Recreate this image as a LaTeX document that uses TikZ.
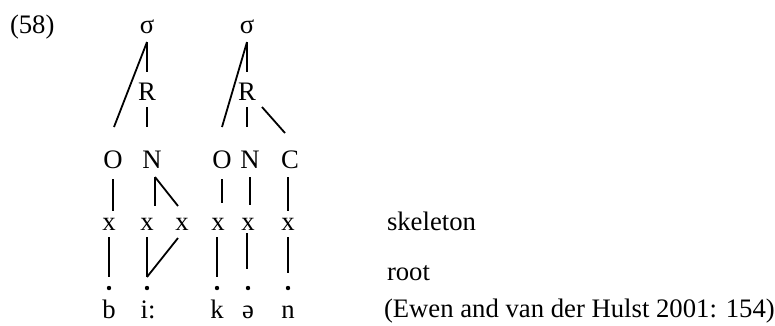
\documentclass[tikz,border=0pt]{standalone}
\usepackage{fontspec}
\setmainfont{Liberation Serif}
\usetikzlibrary{calc}
\begin{document}
\begin{tikzpicture}[x=1pt,y=-1pt,
  lab/.style={inner sep=0pt,outer sep=0pt,anchor=base,font=\fontsize{26.7}{32}\selectfont},
  dotnode/.style={circle,fill=black,inner sep=0pt,minimum size=4.4pt},
  ln/.style={line width=1.8pt}]
\useasboundingbox (0,0) rectangle (775,325);
% labels
\node[lab,anchor=base west] (num) at (10,33) {(58)};
\node[lab] (s1) at (147,33) {σ};
\node[lab] (s2) at (247,33) {σ};
\node[lab] (r1) at (147,100) {R};
\node[lab] (r2) at (247,100) {R};
\node[lab] (o1) at (113,168) {O};
\node[lab] (n1) at (152,168) {N};
\node[lab] (o2) at (222,168) {O};
\node[lab] (n2) at (250,168) {N};
\node[lab] (c) at (290,168) {C};
\node[lab] (x1) at (109,230) {x};
\node[lab] (x2) at (147,230) {x};
\node[lab] (x3) at (182,230) {x};
\node[lab] (x4) at (218,230) {x};
\node[lab] (x5) at (248,230) {x};
\node[lab] (x6) at (288,230) {x};
\node[dotnode] (d1) at (109,288) {};
\node[dotnode] (d2) at (147,288) {};
\node[dotnode] (d3) at (217,288) {};
\node[dotnode] (d4) at (248,288) {};
\node[dotnode] (d5) at (288,288) {};
\node[lab] (sb) at (109,318) {b};
\node[lab] (si) at (148,318) {i:};
\node[lab] (sk) at (217,318) {k};
\node[lab] (se) at (248,318) {ə};
\node[lab] (sn) at (288,318) {n};
\node[lab,anchor=base west] (skel) at (387,230) {skeleton};
\node[lab,anchor=base west] (root) at (387,280) {root};
\node[lab,anchor=base west] (cite) at (384,317) {(Ewen and van der Hulst 2001: 154)};
% syllable 1
\draw[ln] ($(s1.base)+(0,9)$) -- ($(o1.base)+(1,-41)$);
\draw[ln] ($(s1.base)+(0,9)$) -- ($(r1.base)+(0,-28)$);
\draw[ln] ($(r1.base)+(0,7)$) -- ($(n1.base)+(-5,-41)$);
% syllable 2
\draw[ln] ($(s2.base)+(0,9)$) -- ($(o2.base)+(0,-41)$);
\draw[ln] ($(s2.base)+(0,9)$) -- ($(r2.base)+(0,-28)$);
\draw[ln] ($(r2.base)+(0,7)$) -- ($(n2.base)+(-3,-41)$);
\draw[ln] ($(r2.base)+(15,7)$) -- ($(c.base)+(-5,-35)$);
% constituents to skeleton
\draw[ln] ($(o1.base)+(0,11)$) -- ($(x1.base)+(4,-19)$);
\draw[ln] ($(n1.base)+(3,9)$) -- ($(x2.base)+(8,-24)$);
\draw[ln] ($(n1.base)+(3,9)$) -- ($(x3.base)+(-4,-24)$);
\draw[ln] ($(o2.base)+(0,11)$) -- ($(x4.base)+(4,-27)$);
\draw[ln] ($(n2.base)+(0,9)$) -- ($(x5.base)+(2,-25)$);
\draw[ln] ($(c.base)+(-2,9)$) -- ($(x6.base)+(0,-19)$);
% skeleton to root
\draw[ln] ($(x1.base)+(0,7)$) -- ($(d1.center)+(0,-11)$);
\draw[ln] ($(x2.base)+(0,7)$) -- ($(d2.center)+(0,-11)$);
\draw[ln] ($(x3.base)+(-4,8)$) -- ($(d2.center)+(0,-11)$);
\draw[ln] ($(x4.base)+(-1,7)$) -- ($(d3.center)+(0,-11)$);
\draw[ln] ($(x5.base)+(-1,3)$) -- ($(d4.center)+(-1,-19)$);
\draw[ln] ($(x6.base)+(0,7)$) -- ($(d5.center)+(0,-15)$);
\end{tikzpicture}
\end{document}
